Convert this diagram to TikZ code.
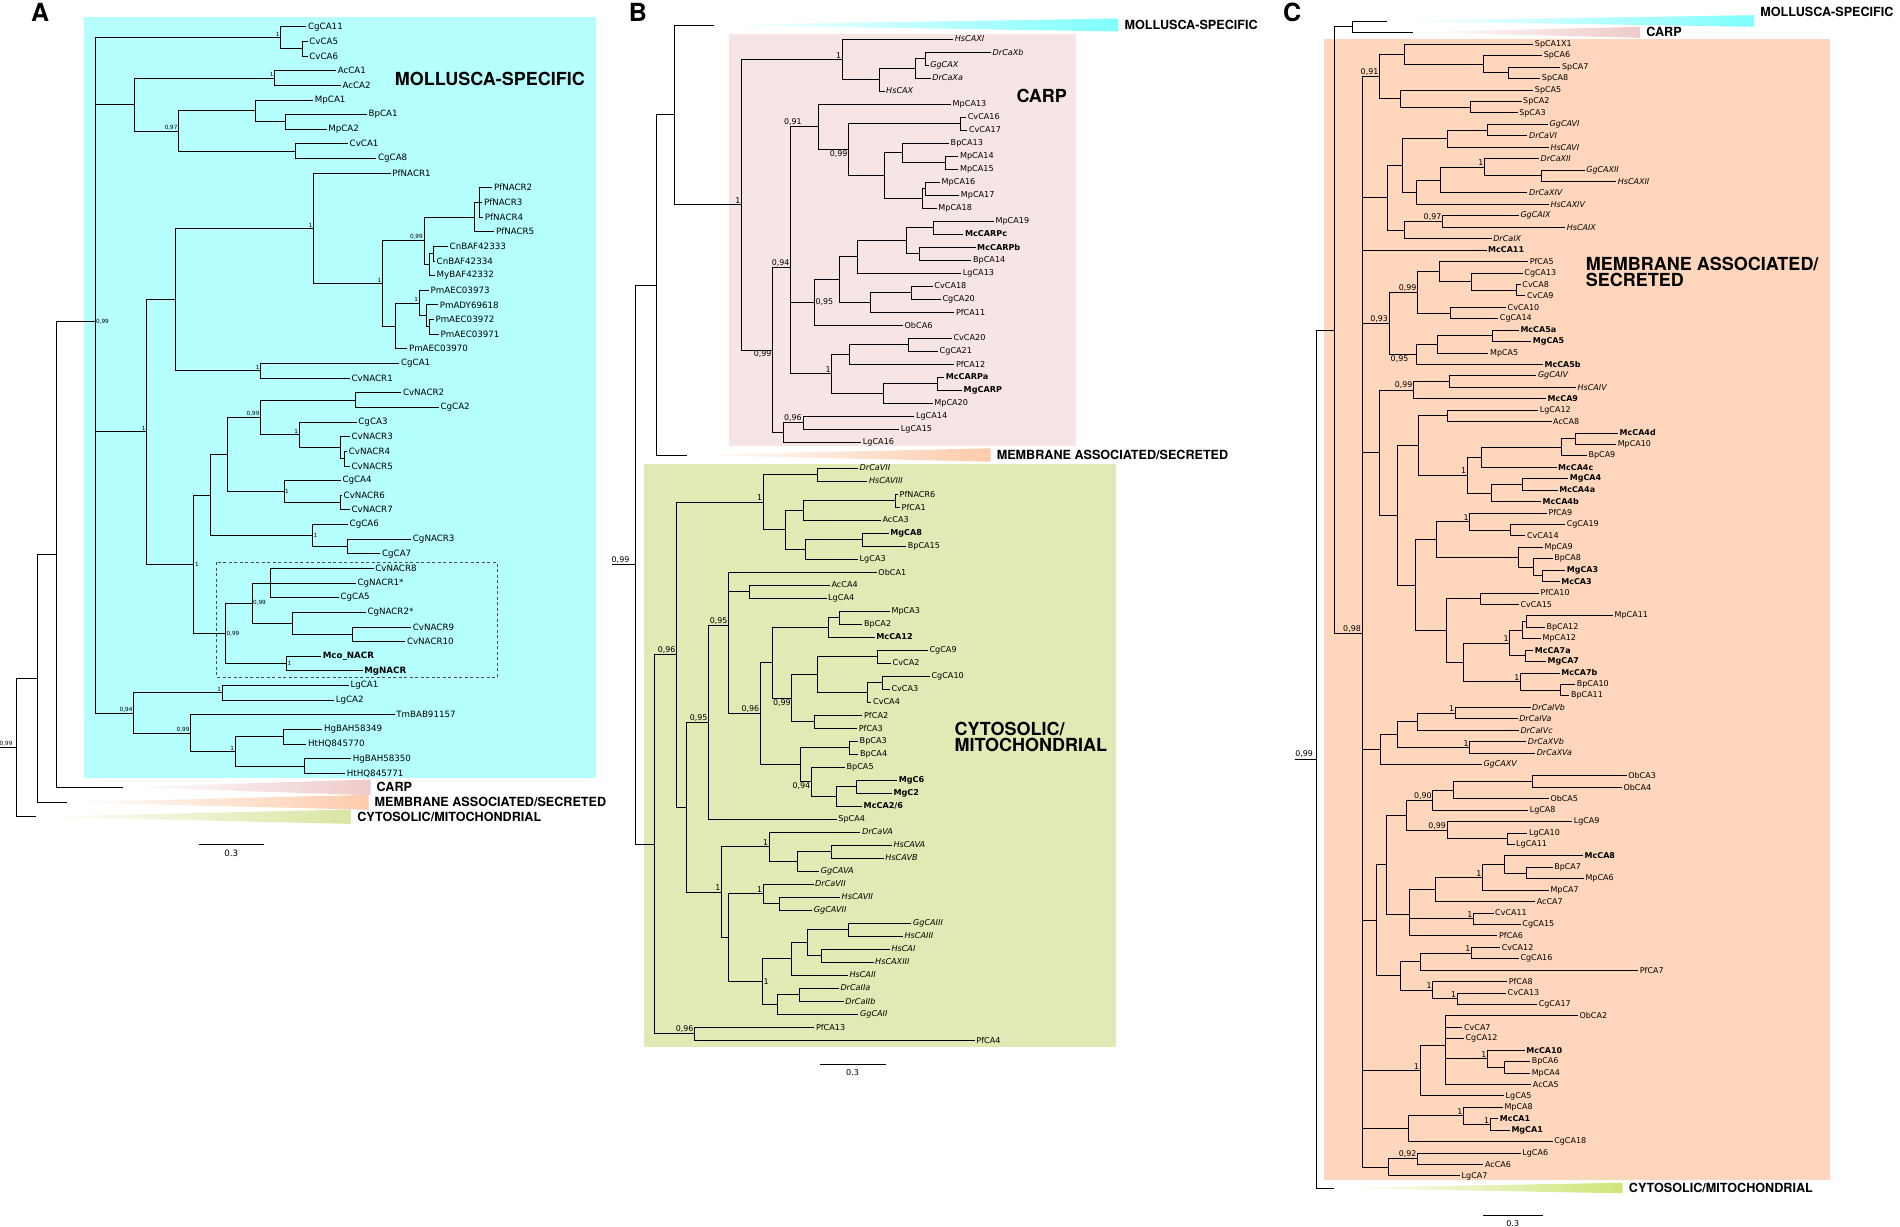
\documentclass[tikz,border=0pt]{standalone}
\usepackage{fontspec}
\setmainfont{DejaVu Sans}[BoldFont={DejaVu Sans Bold},ItalicFont={DejaVu Sans Oblique}]
\newfontfamily\headfont{TeX Gyre Heros}
\usetikzlibrary{positioning}

\definecolor{molbg}{HTML}{B5FFFF}
\definecolor{moltri}{HTML}{80FFFF}
\definecolor{carpbg}{HTML}{F7E4E4}
\definecolor{carptri}{HTML}{EFCACA}
\definecolor{membg}{HTML}{FED6BC}
\definecolor{memtri}{HTML}{FDCCAC}
\definecolor{cytbg}{HTML}{E1EAB5}
\definecolor{cyttriA}{HTML}{D9E6A3}
\definecolor{cyttriC}{HTML}{CFE67A}

\tikzset{
  branch/.style={line width=0.8pt, black},
  leaf/.style={anchor=west, inner xsep=1.5pt, inner ysep=0pt, font=\leaffont},
  mc/.style={font=\leaffont\bfseries},
  vt/.style={font=\leaffont\itshape},
  bs/.style={anchor=south east, inner sep=1pt, font=\bsfont},
  clab/.style={font=\headfont\bfseries\fontsize{12.6}{13}\selectfont, inner sep=0pt},
  head/.style={font=\headfont\bfseries\fontsize{18}{16}\selectfont, inner sep=0pt, align=left},
  panel/.style={font=\headfont\bfseries\fontsize{25}{25}\selectfont, inner sep=0pt, anchor=north west},
}

% leaves are stacked row by row
\newcount\leafrow
\newcommand\leaf[3][]{%
  \global\advance\leafrow by 1
  \pgfmathsetmacro\leafy{\ytop+(\the\leafrow-1)*\dy}%
  \node[leaf,#1] (\pfx\the\leafrow) at (#2,\leafy) {#3};}

% inner node at the mean height of its children
\makeatletter
\NewDocumentCommand\clade{O{}O{}mmm}{%
  \gdef\cl@sum{0}\gdef\cl@num{0}%
  \foreach \ch in {#5}{%
    \pgfpointanchor{\ch}{center}\edef\cl@yy{\the\pgf@y}%
    \pgfmathsetmacro\cl@s{\cl@sum+(\cl@yy)}\xdef\cl@sum{\cl@s}%
    \pgfmathsetmacro\cl@s{\cl@num+1}\xdef\cl@num{\cl@s}}%
  \pgfmathsetmacro\cl@y{\cl@sum/\cl@num}%
  \coordinate (#3) at (#4pt,\cl@y pt);
  \foreach \ch in {#5} \draw[branch] (#3) |- (\ch);
  \if\relax\detokenize{#1}\relax\else\node[bs,#2] at (#3) {#1};\fi}
\makeatother

% collapsed clade
\NewDocumentCommand\collapse{O{}mmmmmmm}{%
  \coordinate (#2) at (#3,#4);
  \coordinate (#2-b) at (#5,#4);
  \shade[left color=white, right color=#7] (#2) -- (#5,#4-#6) -- (#5,#4+#6) -- cycle;
  \node[clab, right=6pt of #2-b, #1] {#8};}

\begin{document}
\begin{tikzpicture}[x=1pt, y=-1pt]
\useasboundingbox (0,0) rectangle (1900,1226);

%%% A
\begin{scope}
\def\pfx{a}\def\ytop{26.7}\def\dy{14.64}\global\leafrow=0
\def\leaffont{\fontsize{8.7}{9}\selectfont}
\def\bsfont{\fontsize{5.7}{6}\selectfont}
\fill[molbg] (83.8,17.3) rectangle (596.3,778.3);
\node[head, anchor=west] at (394.6,79) {MOLLUSCA-SPECIFIC};
\draw[black!70, line width=0.9pt, dash pattern=on 3pt off 2.5pt] (216.7,562.3) rectangle (497.0,677.3);
\node[panel] (A) at (30.8,2.7) {A};

\leaf{306.4}{CgCA11}
\leaf{307.6}{CvCA5}
\leaf{307.6}{CvCA6}
\leaf{336.1}{AcCA1}
\leaf{340.8}{AcCA2}
\leaf{313.2}{MpCA1}
\leaf{366.9}{BpCA1}
\leaf{326.6}{MpCA2}
\leaf{348.0}{CvCA1}
\leaf{376.4}{CgCA8}
\leaf{390.7}{PfNACR1}
\leaf{492.3}{PfNACR2}
\leaf{482.4}{PfNACR3}
\leaf{483.2}{PfNACR4}
\leaf{494.3}{PfNACR5}
\leaf{448.0}{CnBAF42333}
\leaf{435.0}{CnBAF42334}
\leaf{435.0}{MyBAF42332}
\leaf{429.0}{PmAEC03973}
\leaf{438.1}{PmADY69618}
\leaf{433.8}{PmAEC03972}
\leaf{438.9}{PmAEC03971}
\leaf{407.3}{PmAEC03970}
\leaf{399.4}{CgCA1}
\leaf{349.9}{CvNACR1}
\leaf{401.3}{CvNACR2}
\leaf{438.9}{CgCA2}
\leaf{356.7}{CgCA3}
\leaf{349.9}{CvNACR3}
\leaf{347.2}{CvNACR4}
\leaf{349.9}{CvNACR5}
\leaf{340.8}{CgCA4}
\leaf{342.0}{CvNACR6}
\leaf{349.9}{CvNACR7}
\leaf{348.0}{CgCA6}
\leaf{411.2}{CgNACR3}
\leaf{380.4}{CgCA7}
\leaf{373.7}{CvNACR8}
\leaf{355.9}{CgNACR1*}
\leaf{338.9}{CgCA5}
\leaf{365.8}{CgNACR2*}
\leaf{411.2}{CvNACR9}
\leaf{405.3}{CvNACR10}
\leaf[mc]{321.1}{Mco\_NACR}
\leaf[mc]{362.6}{MgNACR}
\leaf{348.8}{LgCA1}
\leaf{334.1}{LgCA2}
\leaf{394.6}{TmBAB91157}
\leaf{322.3}{HgBAH58349}
\leaf{306.4}{HtHQ845770}
\leaf{351.1}{HgBAH58350}
\leaf{345.2}{HtHQ845771}

\clade{an1}{302.5}{a2,a3}
\clade[1]{an2}{280.7}{a1,an1}
\clade[1]{an3}{274.8}{a4,a5}
\clade{an4}{285.5}{a7,a8}
\clade{an5}{255.0}{a6,an4}
\clade{an6}{295.4}{a9,a10}
\clade[0,97]{an7}{178.7}{an5,an6}
\clade{an8}{134.4}{an3,an7}
\clade{an9}{479.6}{a12,a13,a14}
\clade{an10}{474.5}{an9,a15}
\clade{an11}{433.0}{a16,a17}
\clade{an12}{429.0}{an11,a18}
\clade[0,99]{an13}{423.9}{an10,an12}
\clade{an14}{429.0}{a21,a22}
\clade{an15}{426.3}{a20,an14}
\clade[1]{an16}{419.1}{a19,an15}
\clade{an17}{395.4}{an16,a23}
\clade[1]{an18}{382.4}{an13,an17}
\clade[1]{an19}{313.6}{a11,an18}
\clade[1]{an20}{260.6}{a24,a25}
\clade{an21}{175.2}{an19,an20}
\clade{an22}{355.1}{a26,a27}
\clade{an23}{344.0}{a30,a31}
\clade{an24}{340.1}{a29,an23}
\clade[1]{an25}{299.3}{a28,an24}
\clade[0,99]{an26}{260.6}{an22,an25}
\clade{an27}{340.8}{a33,a34}
\clade[1][anchor=west]{an28}{283.9}{a32,an27}
\clade{an29}{227.8}{an26,an28}
\clade{an30}{347.2}{a36,a37}
\clade[1][anchor=west]{an31}{312.4}{a35,an30}
\clade{an32}{210.4}{an29,an31}
\clade{an33}{270.5}{a38,a39,a40}
\clade{an34}{352.7}{a42,a43}
\clade{an35}{292.2}{a41,an34}
\clade[0,99][anchor=west]{an36}{251.9}{an33,an35}
\clade[1][anchor=west]{an37}{286.3}{a44,a45}
\clade[0,99][anchor=west]{an38}{225.4}{an36,an37}
\clade[1][anchor=west]{an39}{193.8}{an32,an38}
\clade[1]{an40}{146.7}{an21,an39}
\clade[1]{an41}{222.2}{a46,a47}
\clade{an42}{283.5}{a49,a50}
\clade{an43}{304.5}{a51,a52}
\clade[1]{an44}{235.3}{an42,an43}
\clade[0,99]{an45}{190.6}{a48,an44}
\clade[0,94]{an46}{133.6}{an41,an45}
\clade[0,99][anchor=west]{an47}{94.9}{an2,an8,an40,an46}

\collapse{acarp}{122.6}{787.3}{370.5}{7.8}{carptri}{CARP}
\collapse{amem}{67.2}{802.3}{368.5}{7.5}{memtri}{MEMBRANE ASSOCIATED/SECRETED}
\collapse{acyt}{35.6}{816.7}{351.1}{7.2}{cyttriA}{CYTOSOLIC/MITOCHONDRIAL}
\clade{an48}{56.1}{an47,acarp}
\clade{an49}{37.6}{an48,amem}
\clade[0,99][xshift=-3pt]{aroot}{16.6}{an49,acyt}
\coordinate (astub) at (0,0 |- aroot);
\draw[branch] (astub) -- (aroot);

\coordinate (asb1) at (198.5,844);
\coordinate (asb2) at (264.1,844);
\draw[branch] (asb1) -- (asb2) node[midway, below=2pt, font=\leaffont] {0.3};
\end{scope}

%%% B
\begin{scope}
\def\pfx{b}\def\ytop{39}\def\dy{13}\global\leafrow=0
\def\leaffont{\fontsize{8.1}{9}\selectfont}
\def\bsfont{\fontsize{7.9}{8}\selectfont}
\fill[carpbg] (728.6,34) rectangle (1075.5,446);
\fill[cytbg] (643.7,464.3) rectangle (1116.3,1047.3);
\node[head, anchor=west] at (1016.3,95.7) {CARP};
\node[head, anchor=north west] at (954.3,721.7) {CYTOSOLIC/\\MITOCHONDRIAL};
\node[panel] (B) at (628.6,3.3) {B};

\leaf[vt]{953.1}{HsCAXI}
\leaf[vt]{991.0}{DrCaXb}
\leaf[vt]{928.6}{GgCAX}
\leaf[vt]{930.6}{DrCaXa}
\leaf[vt]{884.5}{HsCAX}
\leaf{951.0}{MpCA13}
\leaf{966.1}{CvCA16}
\leaf{967.3}{CvCA17}
\leaf{949.0}{BpCA13}
\leaf{958.4}{MpCA14}
\leaf{958.4}{MpCA15}
\leaf{940.0}{MpCA16}
\leaf{959.2}{MpCA17}
\leaf{936.7}{MpCA18}
\leaf{993.9}{MpCA19}
\leaf[mc]{963.3}{McCARPc}
\leaf[mc]{975.5}{McCARPb}
\leaf{971.4}{BpCA14}
\leaf{961.2}{LgCA13}
\leaf{932.7}{CvCA18}
\leaf{940.8}{CgCA20}
\leaf{954.3}{PfCA11}
\leaf{902.9}{ObCA6}
\leaf{951.8}{CvCA20}
\leaf{938.0}{CgCA21}
\leaf{954.3}{PfCA12}
\leaf[mc]{944.1}{McCARPa}
\leaf[mc]{962.0}{MgCARP}
\leaf{932.7}{MpCA20}
\leaf{914.3}{LgCA14}
\leaf{899.2}{LgCA15}
\leaf{861.2}{LgCA16}
\global\leafrow=33
\leaf[vt]{858.0}{DrCaVII}
\leaf[vt]{867.3}{HsCAVIII}
\leaf{898.0}{PfNACR6}
\leaf{900.0}{PfCA1}
\leaf{880.8}{AcCA3}
\leaf[mc]{888.6}{MgCA8}
\leaf{906.1}{BpCA15}
\leaf{858.0}{LgCA3}
\leaf{876.7}{ObCA1}
\leaf{829.8}{AcCA4}
\leaf{826.5}{LgCA4}
\leaf{889.8}{MpCA3}
\leaf{862.4}{BpCA2}
\leaf[mc]{874.7}{McCA12}
\leaf{927.8}{CgCA9}
\leaf{891.0}{CvCA2}
\leaf{929.8}{CgCA10}
\leaf{889.8}{CvCA3}
\leaf{871.4}{CvCA4}
\leaf{862.4}{PfCA2}
\leaf{857.1}{PfCA3}
\leaf{858.0}{BpCA3}
\leaf{858.4}{BpCA4}
\leaf{844.9}{BpCA5}
\leaf[mc]{897.1}{MgC6}
\leaf[mc]{891.8}{MgC2}
\leaf[mc]{862.0}{McCA2/6}
\leaf{836.7}{SpCA4}
\leaf[vt]{860.4}{DrCaVA}
\leaf[vt]{891.8}{HsCAVA}
\leaf[vt]{883.7}{HsCAVB}
\leaf[vt]{819.2}{GgCAVA}
\leaf[vt]{813.5}{DrCaVII}
\leaf[vt]{840.0}{HsCAVII}
\leaf[vt]{812.2}{GgCAVII}
\leaf[vt]{911.4}{GgCAIII}
\leaf[vt]{902.9}{HsCAIII}
\leaf[vt]{889.8}{HsCAI}
\leaf[vt]{873.5}{HsCAXIII}
\leaf[vt]{847.8}{HsCAII}
\leaf[vt]{838.8}{DrCaIIa}
\leaf[vt]{843.7}{DrCaIIb}
\leaf[vt]{858.4}{GgCAII}
\leaf{814.3}{PfCA13}
\leaf{974.7}{PfCA4}

% CARP
\clade{bn1}{925.3}{b2,b3}
\clade{bn2}{915.1}{bn1,b4}
\clade{bn3}{879.6}{bn2,b5}
\clade[1]{bn4}{842.4}{b1,bn3}
\clade{bn5}{960.4}{b7,b8}
\clade{bn6}{945.7}{b10,b11}
\clade{bn7}{902.0}{b9,bn6}
\clade{bn8}{925.3}{b12,b13}
\clade{bn9}{922.4}{bn8,b14}
\clade{bn10}{884.5}{bn7,bn9}
\clade[0,99][anchor=north east]{bn11}{848.6}{bn5,bn10}
\clade[0,91][xshift=-16pt]{bn12}{818.8}{b6,bn11}
\clade{bn13}{933.5}{b15,b16}
\clade{bn14}{919.2}{b17,b18}
\clade{bn15}{906.1}{bn13,bn14}
\clade{bn16}{857.1}{bn15,b19}
\clade{bn17}{911.0}{b20,b21}
\clade{bn18}{870.6}{bn17,b22}
\clade{bn19}{839.2}{bn16,bn18}
\clade[0,95][anchor=west]{bn20}{814.3}{bn19,b23}
\clade{bn21}{908.2}{b24,b25}
\clade{bn22}{849.8}{bn21,b26}
\clade{bn23}{937.6}{b27,b28}
\clade{bn24}{883.7}{bn23,b29}
\clade[1]{bn25}{831.8}{bn22,bn24}
\clade[0,94]{bn26}{790.6}{bn12,bn20,bn25}
\clade[0,96]{bn27}{802.9}{b30,b31}
\clade{bn28}{783.7}{bn27,b32}
\clade[0,99][anchor=north east]{bn29}{772.7}{bn26,bn28}
\clade[1]{bn30}{741.6}{bn4,bn29}

% CYTOSOLIC/MITOCHONDRIAL
\clade{bn31}{817.6}{b34,b35}
\clade{bn32}{895.1}{b36,b37}
\clade{bn33}{803.3}{bn32,b38}
\clade{bn34}{862.0}{b39,b40}
\clade{bn35}{804.9}{bn34,b41}
\clade{bn36}{785.7}{bn33,bn35}
\clade[1]{bn37}{763.3}{bn31,bn36}
\clade{bn38}{749.0}{b43,b44}
\clade{bn39}{839.2}{b45,b46}
\clade{bn40}{828.6}{bn39,b47}
\clade{bn41}{877.6}{b48,b49}
\clade{bn42}{882.4}{b50,b51}
\clade{bn43}{867.3}{bn42,b52}
\clade{bn44}{817.6}{bn41,bn43}
\clade{bn45}{814.3}{b53,b54}
\clade[0,99][anchor=north east]{bn46}{791.8}{bn44,bn45}
\clade{bn47}{772.7}{bn40,bn46}
\clade{bn48}{849.0}{b55,b56}
\clade{bn49}{856.3}{b58,b59}
\clade{bn50}{835.9}{bn49,b60}
\clade[0,94][anchor=north east]{bn51}{811.4}{b57,bn50}
\clade{bn52}{800.0}{bn48,bn51}
\clade[0,96]{bn53}{760.4}{bn47,bn52}
\clade[0,95]{bn54}{728.6}{b42,bn38,bn53}
\clade[0,95]{bn55}{708.6}{bn54,b61}
\clade{bn56}{831.8}{b63,b64}
\clade{bn57}{797.6}{bn56,b65}
\clade[1]{bn58}{769.4}{b62,bn57}
\clade{bn59}{779.6}{b67,b68}
\clade[1]{bn60}{763.3}{b66,bn59}
\clade{bn61}{848.2}{b69,b70}
\clade{bn62}{821.6}{b71,b72}
\clade{bn63}{807.8}{bn61,bn62}
\clade{bn64}{791.4}{bn63,b73}
\clade{bn65}{799.2}{b74,b75}
\clade{bn66}{777.6}{bn65,b76}
\clade[1][anchor=west]{bn67}{762.4}{bn64,bn66}
\clade{bn68}{728.6}{bn60,bn67}
\clade[1]{bn69}{721.6}{bn58,bn68}
\clade{bn70}{686.5}{bn55,bn69}
\clade[0,96]{bn71}{676.7}{bn37,bn70}
\clade[0,96]{bn72}{694.7}{b77,b78}
\clade{bn73}{654.3}{bn71,bn72}

\collapse{bmol}{714.3}{25}{1118.4}{6.5}{moltri}{MOLLUSCA-SPECIFIC}
\collapse{bmem}{686.9}{455}{990.6}{6.7}{memtri}{MEMBRANE ASSOCIATED/SECRETED}
\clade{bn74}{674.7}{bmol,bn30}
\clade{bn75}{656.3}{bn74,bmem}
\clade[0,99][xshift=-5pt]{broot}{635.5}{bn75,bn73}
\coordinate (bstub) at (612.2,0 |- broot);
\draw[branch] (bstub) -- (broot);

\coordinate (bsb1) at (819.6,1064);
\coordinate (bsb2) at (885.7,1064);
\draw[branch] (bsb1) -- (bsb2) node[midway, below=2pt, font=\leaffont] {0.3};
\end{scope}

%%% C
\begin{scope}
\def\pfx{c}\def\ytop{44.3}\def\dy{11.43}\global\leafrow=0
\def\leaffont{\fontsize{8.0}{9}\selectfont}
\def\bsfont{\fontsize{7.9}{8}\selectfont}
\fill[membg] (1324.2,39) rectangle (1830.1,1180);
\node[head, anchor=north west] at (1585.7,256.7) {MEMBRANE ASSOCIATED/\\SECRETED};
\node[panel] (C) at (1283,3) {C};

\leaf{1533.2}{SpCA1X1}
\leaf{1542.1}{SpCA6}
\leaf{1560.4}{SpCA7}
\leaf{1540.2}{SpCA8}
\leaf{1533.2}{SpCA5}
\leaf{1521.5}{SpCA2}
\leaf{1517.6}{SpCA3}
\leaf[vt]{1548.0}{GgCAVI}
\leaf[vt]{1527.4}{DrCaVI}
\leaf[vt]{1548.8}{HsCAVI}
\leaf[vt]{1539.0}{DrCaXII}
\leaf[vt]{1584.6}{GgCAXII}
\leaf[vt]{1616.1}{HsCAXII}
\leaf[vt]{1527.4}{DrCaXIV}
\leaf[vt]{1548.8}{HsCAXIV}
\leaf[vt]{1518.8}{GgCAIX}
\leaf[vt]{1565.1}{HsCAIX}
\leaf[vt]{1491.6}{DrCaIX}
\leaf[mc]{1486.5}{McCA11}
\leaf{1528.1}{PfCA5}
\leaf{1522.7}{CgCA13}
\leaf{1520.7}{CvCA8}
\leaf{1525.4}{CvCA9}
\leaf{1506.0}{CvCA10}
\leaf{1498.2}{CgCA14}
\leaf[mc]{1518.8}{McCA5a}
\leaf[mc]{1531.2}{MgCA5}
\leaf{1488.4}{MpCA5}
\leaf[mc]{1542.9}{McCA5b}
\leaf[vt]{1536.3}{GgCAIV}
\leaf[vt]{1576.0}{HsCAIV}
\leaf[mc]{1546.0}{McCA9}
\leaf{1538.2}{LgCA12}
\leaf{1551.5}{AcCA8}
\leaf[mc]{1618.0}{McCA4d}
\leaf{1616.1}{MpCA10}
\leaf{1586.9}{BpCA9}
\leaf[mc]{1556.5}{McCA4c}
\leaf[mc]{1568.2}{MgCA4}
\leaf[mc]{1557.7}{McCA4a}
\leaf[mc]{1541.0}{McCA4b}
\leaf{1546.8}{PfCA9}
\leaf{1565.1}{CgCA19}
\leaf{1525.4}{CvCA14}
\leaf{1542.9}{MpCA9}
\leaf{1552.6}{BpCA8}
\leaf[mc]{1565.1}{MgCA3}
\leaf[mc]{1559.6}{McCA3}
\leaf{1539.0}{PfCA10}
\leaf{1518.8}{CvCA15}
\leaf{1613.0}{MpCA11}
\leaf{1544.9}{BpCA12}
\leaf{1541.0}{MpCA12}
\leaf[mc]{1533.2}{McCA7a}
\leaf[mc]{1546.0}{MgCA7}
\leaf[mc]{1559.6}{McCA7b}
\leaf{1575.2}{BpCA10}
\leaf{1569.4}{BpCA11}
\leaf[vt]{1530.5}{DrCaIVb}
\leaf[vt]{1517.6}{DrCaIVa}
\leaf[vt]{1518.8}{DrCaIVc}
\leaf[vt]{1526.2}{DrCaXVb}
\leaf[vt]{1535.1}{DrCaXVa}
\leaf[vt]{1481.8}{GgCAXV}
\leaf{1626.6}{ObCA3}
\leaf{1621.9}{ObCA4}
\leaf{1548.8}{ObCA5}
\leaf{1528.1}{LgCA8}
\leaf{1572.1}{LgCA9}
\leaf{1527.4}{LgCA10}
\leaf{1514.5}{LgCA11}
\leaf[mc]{1583.0}{McCA8}
\leaf{1552.6}{BpCA7}
\leaf{1583.8}{MpCA6}
\leaf{1548.8}{MpCA7}
\leaf{1535.1}{AcCA7}
\leaf{1493.5}{CvCA11}
\leaf{1520.7}{CgCA15}
\leaf{1497.4}{PfCA6}
\leaf{1500.1}{CvCA12}
\leaf{1518.8}{CgCA16}
\leaf{1638.2}{PfCA7}
\leaf{1507.1}{PfCA8}
\leaf{1506.0}{CvCA13}
\leaf{1537.1}{CgCA17}
\leaf{1577.9}{ObCA2}
\leaf{1462.4}{CvCA7}
\leaf{1463.9}{CgCA12}
\leaf[mc]{1524.6}{McCA10}
\leaf{1530.1}{BpCA6}
\leaf{1530.1}{MpCA4}
\leaf{1531.2}{AcCA5}
\leaf{1504.0}{LgCA5}
\leaf{1502.8}{MpCA8}
\leaf[mc]{1498.2}{McCA1}
\leaf[mc]{1509.8}{MgCA1}
\leaf{1552.6}{CgCA18}
\leaf{1520.7}{LgCA6}
\leaf{1483.4}{AcCA6}
\leaf{1460.0}{LgCA7}

\clade{cn1}{1508.7}{c3,c4}
\clade{cn2}{1483.8}{c2,cn1}
\clade{cn3}{1404.0}{c1,cn2}
\clade{cn4}{1470.2}{c6,c7}
\clade{cn5}{1400.1}{c5,cn4}
\clade[0,91]{cn6}{1379.5}{cn3,cn5}
\clade{cn7}{1487.7}{c8,c9}
\clade{cn8}{1447.6}{cn7,c10}
\clade{cn9}{1541.8}{c12,c13}
\clade[1]{cn10}{1484.6}{c11,cn9}
\clade{cn11}{1440.6}{cn10,c14}
\clade{cn12}{1416.5}{cn11,c15}
\clade{cn13}{1402.1}{cn8,cn12}
\clade[0,97]{cn14}{1442.5}{c16,c17}
\clade{cn15}{1404.8}{cn14,c18}
\clade{cn16}{1387.3}{cn13,cn15}
\clade{cn17}{1516.8}{c22,c23}
\clade{cn18}{1471.7}{c21,cn17}
\clade{cn19}{1439.8}{c20,cn18}
\clade{cn20}{1450.3}{c24,c25}
\clade[0,99]{cn21}{1417.6}{cn19,cn20}
\clade{cn22}{1492.3}{c26,c27}
\clade{cn23}{1437.1}{cn22,c28}
\clade[0,95][anchor=north east, xshift=-7pt]{cn24}{1416.5}{cn23,c29}
\clade[0,93]{cn25}{1389.2}{cn21,cn24}
\clade{cn26}{1449.5}{c30,c31}
\clade[0,99]{cn27}{1413.7}{cn26,c32}
\clade{cn28}{1447.6}{c33,c34}
\clade{cn29}{1575.2}{c35,c36}
\clade{cn30}{1561.2}{cn29,c37}
\clade{cn31}{1481.8}{cn30,c38}
\clade{cn32}{1522.3}{c39,c40}
\clade{cn33}{1491.6}{cn32,c41}
\clade[1]{cn34}{1467.4}{cn31,cn33}
\clade{cn35}{1418.4}{cn28,cn34}
\clade{cn36}{1510.6}{c43,c44}
\clade[1]{cn37}{1469.8}{c42,cn36}
\clade{cn38}{1542.1}{c47,c48}
\clade{cn39}{1533.6}{c46,cn38}
\clade{cn40}{1518.8}{c45,cn39}
\clade{cn41}{1435.9}{cn37,cn40}
\clade{cn42}{1479.9}{c49,c50}
\clade{cn43}{1526.6}{c51,c52}
\clade{cn44}{1521.9}{cn43,c53}
\clade{cn45}{1525.4}{c54,c55}
\clade[1]{cn46}{1509.8}{cn44,cn45}
\clade{cn47}{1560.4}{c57,c58}
\clade[1]{cn48}{1520.7}{c56,cn47}
\clade{cn49}{1463.5}{cn46,cn48}
\clade{cn50}{1446.4}{cn42,cn49}
\clade{cn51}{1415.3}{cn41,cn50}
\clade{cn52}{1397.4}{cn35,cn51}
\clade{cn53}{1379.5}{cn27,cn52}
\clade[1]{cn54}{1455.4}{c59,c60}
\clade{cn55}{1417.6}{cn54,c61}
\clade[1]{cn56}{1469.8}{c62,c63}
\clade{cn57}{1397.4}{cn55,cn56}
\clade{cn58}{1380.7}{cn57,c64}
\clade{cn59}{1532.0}{c65,c66}
\clade{cn60}{1453.8}{cn59,c67}
\clade[0,90]{cn61}{1432.8}{cn60,c68}
\clade{cn62}{1507.1}{c70,c71}
\clade[0,99]{cn63}{1447.2}{c69,cn62}
\clade{cn64}{1406.3}{cn61,cn63}
\clade{cn65}{1526.6}{c73,c74}
\clade{cn66}{1504.4}{c72,cn65}
\clade[1]{cn67}{1482.6}{cn66,c75}
\clade{cn68}{1435.1}{cn67,c76}
\clade[1]{cn69}{1473.7}{c77,c78}
\clade{cn70}{1409.1}{cn68,cn69,c79}
\clade{cn71}{1386.5}{cn64,cn70}
\clade[1]{cn72}{1471.7}{c80,c81}
\clade{cn73}{1420.4}{cn72,c82}
\clade[1]{cn74}{1457.3}{c84,c85}
\clade[1]{cn75}{1432.8}{c83,cn74}
\clade{cn76}{1400.1}{cn73,cn75}
\clade{cn77}{1376.4}{cn71,cn76}
\clade{cn78}{1504.4}{c90,c91}
\clade[1]{cn79}{1487.7}{c89,cn78}
\clade{cn80}{1445.6}{c86,c87,c88,cn79,c92}
\clade[1]{cn81}{1420.4}{cn80,c93}
\clade[1]{cn82}{1490.4}{c95,c96}
\clade[1]{cn83}{1463.5}{c94,cn82}
\clade{cn84}{1407.9}{cn83,c97}
\clade[0,92]{cn85}{1417.6}{c98,c99}
\clade{cn86}{1388.4}{cn85,c100}
\clade[0,98]{cn87}{1362.0}{cn6,cn16,c19,cn25,cn53,cn58,cn77,cn81,cn84,cn86}

\collapse[yshift=8.7pt]{cmol}{1387.3}{21}{1754.2}{5.8}{moltri}{MOLLUSCA-SPECIFIC}
\collapse{ccarp}{1412.6}{32.3}{1640.2}{5.5}{carptri}{CARP}
\collapse{ccyt}{1334.0}{1188}{1622.7}{5.3}{cyttriC}{CYTOSOLIC/MITOCHONDRIAL}
\clade{cn88}{1352.3}{cmol,ccarp}
\clade{cn89}{1334.7}{cn88,cn87}
\clade[0,99][xshift=-2pt]{croot}{1316.1}{cn89,ccyt}
\coordinate (cstub) at (1294.7,0 |- croot);
\draw[branch] (cstub) -- (croot);

\coordinate (csb1) at (1482.6,1215);
\coordinate (csb2) at (1542.9,1215);
\draw[branch] (csb1) -- (csb2) node[midway, below=2pt, font=\leaffont] {0.3};
\end{scope}
\end{tikzpicture}
\end{document}
